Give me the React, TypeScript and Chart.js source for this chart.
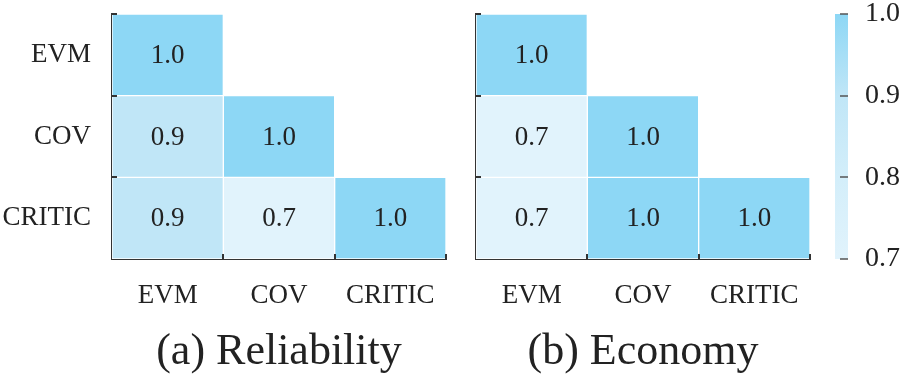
import React, { useEffect, useRef } from "react";
import { Chart, registerables } from "chart.js";

Chart.register(...registerables);

// ---- data ----
const categories = ["EVM", "COV", "CRITIC"];
const reliabilityValues = [[1.0], [0.9, 1.0], [0.9, 0.7, 1.0]];
const economyValues = [[1.0], [0.7, 1.0], [0.7, 1.0, 1.0]];
const panelTitles = ["(a) Reliability", "(b) Economy"];
const colorbarTicks = [0.7, 0.8, 0.9, 1.0];
const colorbarRange = [0.7, 1.0];

// ---- style ----
const FONT = "'Liberation Serif', 'Times New Roman', serif";
const TEXT = "#222";
const AXIS = "#333";
const colorStops: [number, number[]][] = [
  [0.7, [225, 243, 252]],
  [0.8, [211, 238, 250]],
  [0.9, [192, 230, 247]],
  [1.0, [141, 215, 245]],
];

function colorFor(v: number): string {
  if (v <= colorStops[0][0]) return `rgb(${colorStops[0][1].join(",")})`;
  for (let i = 1; i < colorStops.length; i++) {
    const [v1, c1] = colorStops[i];
    const [v0, c0] = colorStops[i - 1];
    if (v <= v1) {
      const t = (v - v0) / (v1 - v0);
      const c = c0.map((a, k) => Math.round(a + (c1[k] - a) * t));
      return `rgb(${c.join(",")})`;
    }
  }
  return `rgb(${colorStops[colorStops.length - 1][1].join(",")})`;
}

function heatmapConfig(values: number[][], title: string, showYLabels: boolean, yWidth: number): any {
  const n = categories.length;
  const datasets = values.map((row, r) => ({
    label: categories[r],
    data: categories.map((_, c) => (c <= r ? [n - 1 - r, n - r] : null)),
    backgroundColor: categories.map((_, c) => (c <= r ? colorFor(row[c]) : "rgba(0,0,0,0)")),
    borderColor: "#ffffff",
    borderWidth: 1,
    borderSkipped: false,
    grouped: false,
    barPercentage: 1,
    categoryPercentage: 1,
  }));

  const cellPlugin = {
    id: "cellLabels",
    afterDatasetsDraw(chart: any) {
      const ctx = chart.ctx;
      ctx.save();
      ctx.font = `27px ${FONT}`;
      ctx.fillStyle = TEXT;
      ctx.textAlign = "center";
      ctx.textBaseline = "middle";
      values.forEach((row, r) => {
        const meta = chart.getDatasetMeta(r);
        row.forEach((v, c) => {
          const el = meta.data[c];
          if (!el) return;
          ctx.fillText(v.toFixed(1), el.x, (el.y + el.base) / 2 + 1);
        });
      });
      ctx.restore();
    },
    afterDraw(chart: any) {
      const ctx = chart.ctx;
      const area = chart.chartArea;
      const xs = chart.scales.x;
      const ys = chart.scales.y;
      ctx.save();
      ctx.strokeStyle = AXIS;
      ctx.lineWidth = 2;
      for (let b = 1; b <= n; b++) {
        const py = Math.round(ys.getPixelForValue(b));
        ctx.beginPath();
        ctx.moveTo(area.left, py);
        ctx.lineTo(area.left + 5, py);
        ctx.stroke();
      }
      for (let c = 0; c < n; c++) {
        const px = Math.round(xs.getPixelForValue(c + 0.5));
        ctx.beginPath();
        ctx.moveTo(px, area.bottom);
        ctx.lineTo(px, area.bottom - 5);
        ctx.stroke();
      }
      ctx.restore();
    },
  };

  return {
    type: "bar",
    data: { labels: categories, datasets },
    plugins: [cellPlugin],
    options: {
      responsive: false,
      animation: false,
      layout: { padding: { left: 0, right: 14, top: 14, bottom: 0 } },
      plugins: {
        legend: { display: false },
        tooltip: { enabled: false },
        title: {
          display: true,
          text: title,
          position: "bottom",
          fullSize: false,
          color: TEXT,
          padding: 0,
          font: { family: FONT, size: 44, weight: "normal", lineHeight: 1 },
        },
      },
      scales: {
        x: {
          type: "category",
          offset: true,
          z: 1,
          grid: { display: false, drawTicks: false },
          border: { display: true, color: AXIS, width: 2 },
          ticks: { font: { family: FONT, size: 27 }, color: TEXT, padding: 21, maxRotation: 0 },
          afterFit(s: any) {
            s.height = 71;
            s.paddingLeft = 0;
            s.paddingRight = 0;
          },
        },
        y: {
          type: "linear",
          min: 0,
          max: n,
          z: 1,
          grid: { display: false, drawTicks: false },
          border: { display: true, color: AXIS, width: 2 },
          ticks: {
            display: showYLabels,
            font: { family: FONT, size: 27, lineHeight: 1 },
            color: TEXT,
            padding: 21,
            callback: (_v: any, i: number) => categories[n - 1 - i],
          },
          afterBuildTicks(s: any) {
            s.ticks = categories.map((_, i) => ({ value: i + 0.5 }));
          },
          afterFit(s: any) {
            s.width = yWidth;
            s.paddingTop = 0;
            s.paddingBottom = 0;
          },
        },
      },
    },
  };
}

function colorbarConfig(): any {
  const tickPlugin = {
    id: "cbTicks",
    afterDraw(chart: any) {
      const ctx = chart.ctx;
      const area = chart.chartArea;
      const ys = chart.scales.y;
      ctx.save();
      ctx.strokeStyle = "#555";
      ctx.lineWidth = 1.5;
      colorbarTicks.forEach((v) => {
        const py = Math.round(ys.getPixelForValue(v));
        ctx.beginPath();
        ctx.moveTo(area.right - 8, py);
        ctx.lineTo(area.right, py);
        ctx.stroke();
      });
      ctx.restore();
    },
  };
  return {
    type: "bar",
    data: {
      labels: [""],
      datasets: [
        {
          data: [colorbarRange],
          backgroundColor: (c: any) => {
            const chart = c.chart;
            const area = chart.chartArea;
            if (!area) return colorFor(1);
            const g = chart.ctx.createLinearGradient(0, area.bottom, 0, area.top);
            const lo = colorbarRange[0];
            const hi = colorbarRange[1];
            colorStops.forEach(([v]) => {
              g.addColorStop((v - lo) / (hi - lo), colorFor(v));
            });
            return g;
          },
          borderWidth: 0,
          barPercentage: 1,
          categoryPercentage: 1,
        },
      ],
    },
    plugins: [tickPlugin],
    options: {
      responsive: false,
      animation: false,
      layout: { padding: { left: 11, right: 0, top: 14, bottom: 115 } },
      plugins: { legend: { display: false }, tooltip: { enabled: false }, title: { display: false } },
      scales: {
        x: { display: false },
        y: {
          position: "right",
          min: colorbarRange[0],
          max: colorbarRange[1],
          grid: { display: false, drawTicks: false },
          border: { display: false },
          ticks: {
            font: { family: FONT, size: 28, lineHeight: 1 },
            color: TEXT,
            padding: 17,
            callback: (v: any) => Number(v).toFixed(1),
          },
          afterBuildTicks(s: any) {
            s.ticks = colorbarTicks.map((v) => ({ value: v }));
          },
          afterFit(s: any) {
            s.width = 52;
            s.paddingTop = 0;
            s.paddingBottom = 0;
          },
        },
      },
    },
  };
}

export default function App() {
  const c1 = useRef<HTMLCanvasElement>(null);
  const c2 = useRef<HTMLCanvasElement>(null);
  const c3 = useRef<HTMLCanvasElement>(null);

  useEffect(() => {
    const charts = [
      new Chart(c1.current as any, heatmapConfig(reliabilityValues, panelTitles[0], true, 112)),
      new Chart(c2.current as any, heatmapConfig(economyValues, panelTitles[1], false, 16)),
      new Chart(c3.current as any, colorbarConfig()),
    ];
    return () => charts.forEach((c) => c.destroy());
  }, []);

  return (
    <div style={{ position: "fixed", left: 0, top: 0, width: 900, height: 374, background: "#fff", overflow: "hidden" }}>
      <canvas ref={c1} width={460} height={374} style={{ position: "absolute", left: 0, top: 0 }} />
      <canvas ref={c2} width={364} height={374} style={{ position: "absolute", left: 460, top: 0 }} />
      <canvas ref={c3} width={76} height={374} style={{ position: "absolute", left: 824, top: 0 }} />
    </div>
  );
}
